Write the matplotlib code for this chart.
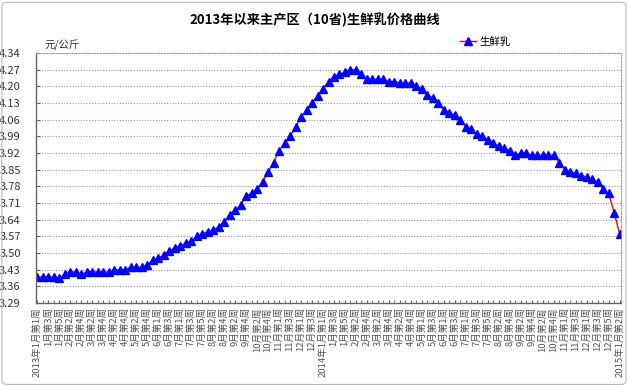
import matplotlib
matplotlib.use("Agg")
import matplotlib.pyplot as plt
from matplotlib.patches import FancyBboxPatch
from matplotlib.ticker import MultipleLocator

plt.rcParams['font.family'] = ['Noto Sans CJK SC', 'DejaVu Sans']

title = "2013年以来主产区（10省)生鲜乳价格曲线"
unit = "元/公斤"
series_name = "生鲜乳"

# weekly prices, yuan/kg
prices_2013 = [3.40, 3.40, 3.40, 3.40, 3.395, 3.41, 3.42, 3.42, 3.41, 3.42,
               3.42, 3.42, 3.42, 3.42, 3.43, 3.43, 3.43, 3.44, 3.44, 3.44,
               3.45, 3.47, 3.48, 3.49, 3.51, 3.52, 3.53, 3.54, 3.55, 3.57,
               3.58, 3.59, 3.595, 3.61, 3.63, 3.66, 3.68, 3.70, 3.74, 3.75,
               3.77, 3.80, 3.84, 3.88, 3.93, 3.96, 3.99, 4.03, 4.07, 4.10,
               4.13, 4.16]
prices_2014 = [4.19, 4.22, 4.24, 4.25, 4.26, 4.27, 4.27, 4.25, 4.23, 4.23,
               4.23, 4.23, 4.22, 4.22, 4.215, 4.215, 4.215, 4.20, 4.19, 4.165,
               4.15, 4.13, 4.10, 4.09, 4.08, 4.06, 4.03, 4.02, 4.00, 3.99,
               3.975, 3.96, 3.95, 3.94, 3.93, 3.91, 3.92, 3.92, 3.91, 3.91,
               3.91, 3.91, 3.91, 3.88, 3.85, 3.84, 3.835, 3.825, 3.82, 3.81,
               3.80, 3.77, 3.75]
prices_2015 = [3.67, 3.58]

# every other week is labelled
week_labels = [
    "2013年1月第1周", "1月第3周", "1月第5周", "2月第2周", "2月第4周", "3月第2周",
    "3月第4周", "4月第2周", "4月第4周", "5月第2周", "5月第4周", "6月第1周",
    "6月第3周", "7月第1周", "7月第3周", "7月第5周", "8月第2周", "8月第4周",
    "9月第2周", "9月第4周", "10月第2周", "10月第4周", "11月第1周", "11月第3周",
    "12月第1周", "12月第3周",
    "2014年1月第1周", "1月第3周", "1月第5周", "2月第2周", "2月第4周", "3月第2周",
    "3月第4周", "4月第2周", "4月第4周", "5月第1周", "5月第3周", "6月第1周",
    "6月第3周", "7月第1周", "7月第3周", "7月第5周", "8月第2周", "8月第4周",
    "9月第2周", "9月第4周", "10月第2周", "10月第4周", "11月第1周", "11月第3周",
    "12月第1周", "12月第3周", "12月第5周",
    "2015年1月第2周",
]

prices = prices_2013 + prices_2014 + prices_2015
x = list(range(len(prices)))

fig = plt.figure(figsize=(6.28, 3.86), dpi=100)
ax = fig.add_axes([36 / 628, 83 / 386, 585 / 628, 250 / 386])

ax.plot(x, prices, color='red', lw=1.0, marker='^', markersize=5.5,
        markerfacecolor='#0000ff', markeredgecolor='#0000ff', label=series_name)

ax.set_xlim(-0.25, len(prices) - 0.75)
ax.set_ylim(3.29, 4.34)
ax.set_yticks([3.29 + 0.07 * i for i in range(16)])
ax.yaxis.set_major_formatter(matplotlib.ticker.FormatStrFormatter('%.2f'))
ax.tick_params(axis='y', labelsize=8, length=3, direction='in', color='#666666',
               pad=11, labelcolor='#333333')

ax.set_xticks(x[::2])
ax.set_xticklabels(week_labels, rotation=90, fontsize=6.8, color='#555555')
ax.xaxis.set_minor_locator(MultipleLocator(1))
ax.tick_params(axis='x', which='both', length=2.5, direction='in', color='#666666', pad=3)

ax.grid(axis='y', linestyle=(0, (1, 1.5)), color='#999999', lw=0.8)
for side in ['top', 'right']:
    ax.spines[side].set_linestyle((0, (1, 1.5)))
    ax.spines[side].set_color('#999999')
    ax.spines[side].set_linewidth(0.8)
for side in ['left', 'bottom']:
    ax.spines[side].set_color('#666666')
    ax.spines[side].set_linewidth(1.0)

fig.text(0.502, 0.948, title, ha='center', va='center', fontsize=9.5, fontweight='bold')
fig.text(44 / 628, 1 - 45 / 386, unit, ha='left', va='center', fontsize=7.5, color='#333333')
ax.legend(loc='lower left', bbox_to_anchor=(455 / 628, 1 - 52 / 386), bbox_transform=fig.transFigure,
          frameon=False, fontsize=7.5, handlelength=1.5, handletextpad=0.3, borderpad=0)

fig.patches.append(FancyBboxPatch((0.003, 0.004), 0.994, 0.99, boxstyle='round,pad=0,rounding_size=0.01',
                                  transform=fig.transFigure, fill=False, ec='#bbbbbb', lw=0.8))

fig.savefig('out.png', dpi=100)
